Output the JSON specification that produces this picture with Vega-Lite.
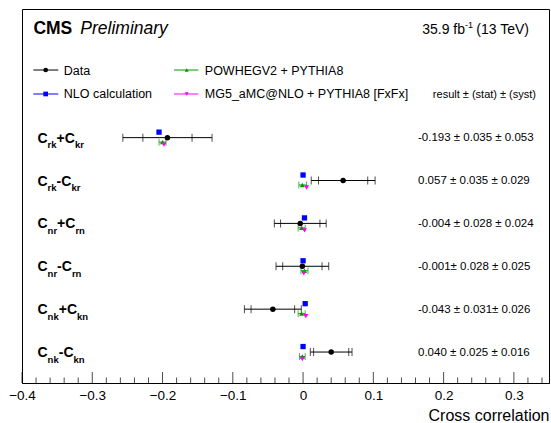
{
  "$schema": "https://vega.github.io/schema/vega-lite/v6.json",
  "width": 527,
  "height": 374,
  "autosize": {"type": "none"},
  "padding": {"left": 22, "top": 9, "right": 2, "bottom": 40},
  "config": {
    "view": {"stroke": "black", "strokeWidth": 1},
    "font": "Liberation Sans",
    "text": {"font": "Liberation Sans", "color": "black"}
  },
  "datasets": {
    "meas": [
      {"obs": "Crk+Ckr", "a": "rk", "op": "+", "b": "kr", "pos": 3, "val": -0.193, "txt": "-0.193 ± 0.035 ± 0.053", "lo_tot": -0.2565, "hi_tot": -0.1295, "lo_stat": -0.228, "hi_stat": -0.158},
      {"obs": "Crk-Ckr", "a": "rk", "op": "-", "b": "kr", "pos": 4, "val": 0.057, "txt": "0.057 ± 0.035 ± 0.029", "lo_tot": 0.0116, "hi_tot": 0.1025, "lo_stat": 0.022, "hi_stat": 0.092},
      {"obs": "Cnr+Crn", "a": "nr", "op": "+", "b": "rn", "pos": 5, "val": -0.004, "txt": "-0.004 ± 0.028 ± 0.024", "lo_tot": -0.0409, "hi_tot": 0.0329, "lo_stat": -0.032, "hi_stat": 0.024},
      {"obs": "Cnr-Crn", "a": "nr", "op": "-", "b": "rn", "pos": 6, "val": -0.001, "txt": "-0.001± 0.028 ± 0.025", "lo_tot": -0.0385, "hi_tot": 0.0365, "lo_stat": -0.029, "hi_stat": 0.027},
      {"obs": "Cnk+Ckn", "a": "nk", "op": "+", "b": "kn", "pos": 7, "val": -0.043, "txt": "-0.043 ± 0.031± 0.026", "lo_tot": -0.0835, "hi_tot": -0.0025, "lo_stat": -0.074, "hi_stat": -0.012},
      {"obs": "Cnk-Ckn", "a": "nk", "op": "-", "b": "kn", "pos": 8, "val": 0.040, "txt": "0.040 ± 0.025 ± 0.016", "lo_tot": 0.0103, "hi_tot": 0.0697, "lo_stat": 0.015, "hi_stat": 0.065}
    ],
    "mc": [
      {"gen": "NLO calculation", "pos": 3, "val": -0.205, "lo": -0.205, "hi": -0.205},
      {"gen": "NLO calculation", "pos": 4, "val": 0.000, "lo": 0.000, "hi": 0.000},
      {"gen": "NLO calculation", "pos": 5, "val": 0.002, "lo": 0.002, "hi": 0.002},
      {"gen": "NLO calculation", "pos": 6, "val": 0.000, "lo": 0.000, "hi": 0.000},
      {"gen": "NLO calculation", "pos": 7, "val": 0.003, "lo": 0.003, "hi": 0.003},
      {"gen": "NLO calculation", "pos": 8, "val": 0.000, "lo": 0.000, "hi": 0.000},
      {"gen": "POWHEGV2 + PYTHIA8", "pos": 3, "val": -0.200, "lo": -0.205, "hi": -0.195},
      {"gen": "POWHEGV2 + PYTHIA8", "pos": 4, "val": -0.001, "lo": -0.006, "hi": 0.005},
      {"gen": "POWHEGV2 + PYTHIA8", "pos": 5, "val": -0.002, "lo": -0.007, "hi": 0.003},
      {"gen": "POWHEGV2 + PYTHIA8", "pos": 6, "val": 0.002, "lo": -0.003, "hi": 0.007},
      {"gen": "POWHEGV2 + PYTHIA8", "pos": 7, "val": -0.002, "lo": -0.007, "hi": 0.003},
      {"gen": "POWHEGV2 + PYTHIA8", "pos": 8, "val": -0.001, "lo": -0.005, "hi": 0.003},
      {"gen": "MG5_aMC@NLO + PYTHIA8 [FxFx]", "pos": 3, "val": -0.198, "lo": -0.200, "hi": -0.196},
      {"gen": "MG5_aMC@NLO + PYTHIA8 [FxFx]", "pos": 4, "val": 0.005, "lo": 0.003, "hi": 0.007},
      {"gen": "MG5_aMC@NLO + PYTHIA8 [FxFx]", "pos": 5, "val": 0.002, "lo": 0.000, "hi": 0.004},
      {"gen": "MG5_aMC@NLO + PYTHIA8 [FxFx]", "pos": 6, "val": 0.001, "lo": -0.001, "hi": 0.003},
      {"gen": "MG5_aMC@NLO + PYTHIA8 [FxFx]", "pos": 7, "val": 0.004, "lo": 0.002, "hi": 0.006},
      {"gen": "MG5_aMC@NLO + PYTHIA8 [FxFx]", "pos": 8, "val": -0.001, "lo": -0.003, "hi": 0.001}
    ],
    "legend": [
      {"gen": "Data", "pos": 1.423, "col": 1},
      {"gen": "NLO calculation", "pos": 1.982, "col": 1},
      {"gen": "POWHEGV2 + PYTHIA8", "pos": 1.423, "col": 2},
      {"gen": "MG5_aMC@NLO + PYTHIA8 [FxFx]", "pos": 1.982, "col": 2}
    ],
    "header": [
      {"cms": "CMS", "prelim": "Preliminary", "lumi": "35.9 fb", "sup": "-1", "energy": "(13 TeV)", "res": "result ± (stat) ± (syst)", "pos": 0.58, "pos2": 1.982}
    ],
    "axticks": [
      {"t": -0.4}, {"t": -0.38}, {"t": -0.36}, {"t": -0.34}, {"t": -0.32}, {"t": -0.3}, {"t": -0.28}, {"t": -0.26}, {"t": -0.24}, {"t": -0.22},
      {"t": -0.2}, {"t": -0.18}, {"t": -0.16}, {"t": -0.14}, {"t": -0.12}, {"t": -0.1}, {"t": -0.08}, {"t": -0.06}, {"t": -0.04}, {"t": -0.02},
      {"t": 0}, {"t": 0.02}, {"t": 0.04}, {"t": 0.06}, {"t": 0.08}, {"t": 0.1}, {"t": 0.12}, {"t": 0.14}, {"t": 0.16}, {"t": 0.18},
      {"t": 0.2}, {"t": 0.22}, {"t": 0.24}, {"t": 0.26}, {"t": 0.28}, {"t": 0.3}, {"t": 0.32}, {"t": 0.34}
    ]
  },
  "layer": [
    {
      "data": {"name": "meas"},
      "mark": {"type": "rule", "color": "black", "strokeWidth": 1},
      "encoding": {
        "x": {"field": "lo_tot", "type": "quantitative",
          "scale": {"domain": [-0.4, 0.35], "nice": false, "zero": false},
          "axis": {
            "orient": "bottom",
            "values": [-0.4, -0.3, -0.2, -0.1, 0, 0.1, 0.2, 0.3],
            "format": ".1~f",
            "ticks": false,
            "domainColor": "black", "grid": false,
            "labelFont": "Liberation Sans", "labelFontSize": 13.5, "labelColor": "black", "labelPadding": 5,
            "labelFlush": false, "labelOverlap": false,
            "title": "Cross correlation", "titleFont": "Liberation Sans", "titleFontWeight": "normal", "titleFontSize": 16,
            "titleColor": "black", "titleAnchor": "end", "titlePadding": 6
          }},
        "x2": {"field": "hi_tot"},
        "y": {"field": "pos", "type": "quantitative", "scale": {"domain": [0, 8.722], "reverse": true, "nice": false, "zero": false}, "axis": null}
      }
    },
    {
      "data": {"name": "axticks"},
      "transform": [{"filter": "abs(datum.t*10 - round(datum.t*10)) < 0.001"}],
      "mark": {"type": "tick", "orient": "vertical", "color": "black", "size": 11, "thickness": 1, "yOffset": -5.5},
      "encoding": {
        "x": {"field": "t", "type": "quantitative"},
        "y": {"datum": 8.722, "type": "quantitative"}
      }
    },
    {
      "data": {"name": "axticks"},
      "transform": [{"filter": "abs(datum.t*10 - round(datum.t*10)) >= 0.001"}],
      "mark": {"type": "tick", "orient": "vertical", "color": "black", "size": 5.5, "thickness": 1, "yOffset": -2.75},
      "encoding": {
        "x": {"field": "t", "type": "quantitative"},
        "y": {"datum": 8.722, "type": "quantitative"}
      }
    },
    {
      "data": {"name": "meas"},
      "transform": [{"fold": ["lo_tot", "hi_tot", "lo_stat", "hi_stat"], "as": ["k", "v"]}],
      "mark": {"type": "tick", "orient": "vertical", "color": "black", "size": 8, "thickness": 1},
      "encoding": {
        "x": {"field": "v", "type": "quantitative"},
        "y": {"field": "pos", "type": "quantitative"}
      }
    },
    {
      "data": {"name": "mc"},
      "transform": [{"filter": "datum.gen == 'POWHEGV2 + PYTHIA8'"}],
      "mark": {"type": "rule", "strokeWidth": 1, "yOffset": 4.5},
      "encoding": {
        "x": {"field": "lo", "type": "quantitative"},
        "x2": {"field": "hi"},
        "y": {"field": "pos", "type": "quantitative"},
        "color": {"field": "gen", "type": "nominal", "legend": null,
          "scale": {"domain": ["Data", "NLO calculation", "POWHEGV2 + PYTHIA8", "MG5_aMC@NLO + PYTHIA8 [FxFx]"], "range": ["#000000", "#0000ff", "#009a00", "#ff00ff"]}}
      }
    },
    {
      "data": {"name": "mc"},
      "transform": [{"filter": "datum.gen == 'POWHEGV2 + PYTHIA8'"}, {"fold": ["lo", "hi"], "as": ["k", "v"]}],
      "mark": {"type": "tick", "orient": "vertical", "size": 7, "thickness": 1, "yOffset": 4.5},
      "encoding": {
        "x": {"field": "v", "type": "quantitative"},
        "y": {"field": "pos", "type": "quantitative"},
        "color": {"field": "gen", "type": "nominal", "legend": null}
      }
    },
    {
      "data": {"name": "mc"},
      "transform": [{"filter": "datum.gen == 'POWHEGV2 + PYTHIA8'"}],
      "mark": {"type": "point", "filled": true, "opacity": 1, "size": 26, "shape": "triangle-up", "yOffset": 4.5},
      "encoding": {
        "x": {"field": "val", "type": "quantitative"},
        "y": {"field": "pos", "type": "quantitative"},
        "color": {"field": "gen", "type": "nominal", "legend": null}
      }
    },
    {
      "data": {"name": "mc"},
      "transform": [{"filter": "datum.gen == 'MG5_aMC@NLO + PYTHIA8 [FxFx]'"}],
      "mark": {"type": "point", "filled": true, "opacity": 1, "size": 26, "shape": "triangle-down", "yOffset": 7},
      "encoding": {
        "x": {"field": "val", "type": "quantitative"},
        "y": {"field": "pos", "type": "quantitative"},
        "color": {"field": "gen", "type": "nominal", "legend": null}
      }
    },
    {
      "data": {"name": "mc"},
      "transform": [{"filter": "datum.gen == 'NLO calculation'"}],
      "mark": {"type": "point", "filled": true, "opacity": 1, "size": 28, "shape": "square", "yOffset": -5.5},
      "encoding": {
        "x": {"field": "val", "type": "quantitative"},
        "y": {"field": "pos", "type": "quantitative"},
        "color": {"field": "gen", "type": "nominal", "legend": null}
      }
    },
    {
      "data": {"name": "meas"},
      "mark": {"type": "point", "filled": true, "opacity": 1, "size": 30, "shape": "circle", "color": "black"},
      "encoding": {
        "x": {"field": "val", "type": "quantitative"},
        "y": {"field": "pos", "type": "quantitative"}
      }
    },
    {
      "data": {"name": "meas"},
      "mark": {"type": "text", "align": "left", "baseline": "alphabetic", "fontSize": 14, "fontWeight": "bold", "dx": 15.5, "dy": 5},
      "encoding": {
        "x": {"datum": -0.4, "type": "quantitative"},
        "y": {"field": "pos", "type": "quantitative"},
        "text": {"value": "C"}
      }
    },
    {
      "data": {"name": "meas"},
      "mark": {"type": "text", "align": "left", "baseline": "alphabetic", "fontSize": 9.5, "fontWeight": "bold", "dx": 25.6, "dy": 10.5},
      "encoding": {
        "x": {"datum": -0.4, "type": "quantitative"},
        "y": {"field": "pos", "type": "quantitative"},
        "text": {"field": "a"}
      }
    },
    {
      "data": {"name": "meas"},
      "mark": {"type": "text", "align": "left", "baseline": "alphabetic", "fontSize": 14, "fontWeight": "bold", "dy": 5,
        "dx": {"expr": "datum.a == 'rk' ? 34.6 : datum.a == 'nr' ? 35.1 : 36.7"}},
      "encoding": {
        "x": {"datum": -0.4, "type": "quantitative"},
        "y": {"field": "pos", "type": "quantitative"},
        "text": {"field": "op"}
      }
    },
    {
      "data": {"name": "meas"},
      "mark": {"type": "text", "align": "left", "baseline": "alphabetic", "fontSize": 14, "fontWeight": "bold", "dy": 5,
        "dx": {"expr": "(datum.a == 'rk' ? 34.6 : datum.a == 'nr' ? 35.1 : 36.7) + (datum.op == '+' ? 8.2 : 4.7)"}},
      "encoding": {
        "x": {"datum": -0.4, "type": "quantitative"},
        "y": {"field": "pos", "type": "quantitative"},
        "text": {"value": "C"}
      }
    },
    {
      "data": {"name": "meas"},
      "mark": {"type": "text", "align": "left", "baseline": "alphabetic", "fontSize": 9.5, "fontWeight": "bold", "dy": 10.5,
        "dx": {"expr": "(datum.a == 'rk' ? 34.6 : datum.a == 'nr' ? 35.1 : 36.7) + (datum.op == '+' ? 18.3 : 14.8)"}},
      "encoding": {
        "x": {"datum": -0.4, "type": "quantitative"},
        "y": {"field": "pos", "type": "quantitative"},
        "text": {"field": "b"}
      }
    },
    {
      "data": {"name": "meas"},
      "mark": {"type": "text", "align": "left", "baseline": "alphabetic", "fontSize": 11.5, "dx": 396, "dy": 3.5},
      "encoding": {
        "x": {"datum": -0.4, "type": "quantitative"},
        "y": {"field": "pos", "type": "quantitative"},
        "text": {"field": "txt"}
      }
    },
    {
      "data": {"name": "header"},
      "mark": {"type": "text", "align": "left", "baseline": "alphabetic", "fontSize": 17.5, "fontWeight": "bold", "dx": 11.4},
      "encoding": {
        "x": {"datum": -0.4, "type": "quantitative"},
        "y": {"field": "pos", "type": "quantitative"},
        "text": {"field": "cms"}
      }
    },
    {
      "data": {"name": "header"},
      "mark": {"type": "text", "align": "left", "baseline": "alphabetic", "fontSize": 17.5, "fontStyle": "italic", "dx": 58.3},
      "encoding": {
        "x": {"datum": -0.4, "type": "quantitative"},
        "y": {"field": "pos", "type": "quantitative"},
        "text": {"field": "prelim"}
      }
    },
    {
      "data": {"name": "header"},
      "mark": {"type": "text", "align": "right", "baseline": "alphabetic", "fontSize": 14, "dx": -84},
      "encoding": {
        "x": {"datum": 0.35, "type": "quantitative"},
        "y": {"field": "pos", "type": "quantitative"},
        "text": {"field": "lumi"}
      }
    },
    {
      "data": {"name": "header"},
      "mark": {"type": "text", "align": "right", "baseline": "alphabetic", "fontSize": 9, "dx": -76, "dy": -6},
      "encoding": {
        "x": {"datum": 0.35, "type": "quantitative"},
        "y": {"field": "pos", "type": "quantitative"},
        "text": {"field": "sup"}
      }
    },
    {
      "data": {"name": "header"},
      "mark": {"type": "text", "align": "right", "baseline": "alphabetic", "fontSize": 14, "dx": -20},
      "encoding": {
        "x": {"datum": 0.35, "type": "quantitative"},
        "y": {"field": "pos", "type": "quantitative"},
        "text": {"field": "energy"}
      }
    },
    {
      "data": {"name": "header"},
      "mark": {"type": "text", "align": "right", "baseline": "alphabetic", "fontSize": 11, "dx": -13, "dy": 4},
      "encoding": {
        "x": {"datum": 0.35, "type": "quantitative"},
        "y": {"field": "pos2", "type": "quantitative"},
        "text": {"field": "res"}
      }
    },
    {
      "data": {"name": "legend"},
      "transform": [{"filter": "datum.col == 1"}],
      "mark": {"type": "rule", "strokeWidth": 1},
      "encoding": {
        "x": {"datum": -0.3839, "type": "quantitative"},
        "x2": {"datum": -0.3483},
        "y": {"field": "pos", "type": "quantitative"},
        "color": {"field": "gen", "type": "nominal", "legend": null}
      }
    },
    {
      "data": {"name": "legend"},
      "transform": [{"filter": "datum.col == 2"}],
      "mark": {"type": "rule", "strokeWidth": 1},
      "encoding": {
        "x": {"datum": -0.1837, "type": "quantitative"},
        "x2": {"datum": -0.1491},
        "y": {"field": "pos", "type": "quantitative"},
        "color": {"field": "gen", "type": "nominal", "legend": null}
      }
    },
    {
      "data": {"name": "legend"},
      "transform": [{"filter": "datum.col == 1"}],
      "mark": {"type": "point", "filled": true, "opacity": 1, "size": 22},
      "encoding": {
        "x": {"datum": -0.3663, "type": "quantitative"},
        "y": {"field": "pos", "type": "quantitative"},
        "color": {"field": "gen", "type": "nominal", "legend": null},
        "shape": {"field": "gen", "type": "nominal", "legend": null,
          "scale": {"domain": ["Data", "NLO calculation", "POWHEGV2 + PYTHIA8", "MG5_aMC@NLO + PYTHIA8 [FxFx]"], "range": ["circle", "square", "triangle-up", "triangle-down"]}}
      }
    },
    {
      "data": {"name": "legend"},
      "transform": [{"filter": "datum.col == 2"}],
      "mark": {"type": "point", "filled": true, "opacity": 1, "size": 16},
      "encoding": {
        "x": {"datum": -0.1656, "type": "quantitative"},
        "y": {"field": "pos", "type": "quantitative"},
        "color": {"field": "gen", "type": "nominal", "legend": null},
        "shape": {"field": "gen", "type": "nominal", "legend": null}
      }
    },
    {
      "data": {"name": "legend"},
      "transform": [{"filter": "datum.col == 1"}],
      "mark": {"type": "text", "align": "left", "baseline": "alphabetic", "fontSize": 12.5, "dx": 5.5, "dy": 4.5, "color": "black"},
      "encoding": {
        "x": {"datum": -0.3483, "type": "quantitative"},
        "y": {"field": "pos", "type": "quantitative"},
        "text": {"field": "gen"}
      }
    },
    {
      "data": {"name": "legend"},
      "transform": [{"filter": "datum.col == 2"}],
      "mark": {"type": "text", "align": "left", "baseline": "alphabetic", "fontSize": 12.5, "dx": 6.5, "dy": 4.5, "color": "black"},
      "encoding": {
        "x": {"datum": -0.1491, "type": "quantitative"},
        "y": {"field": "pos", "type": "quantitative"},
        "text": {"field": "gen"}
      }
    }
  ]
}
